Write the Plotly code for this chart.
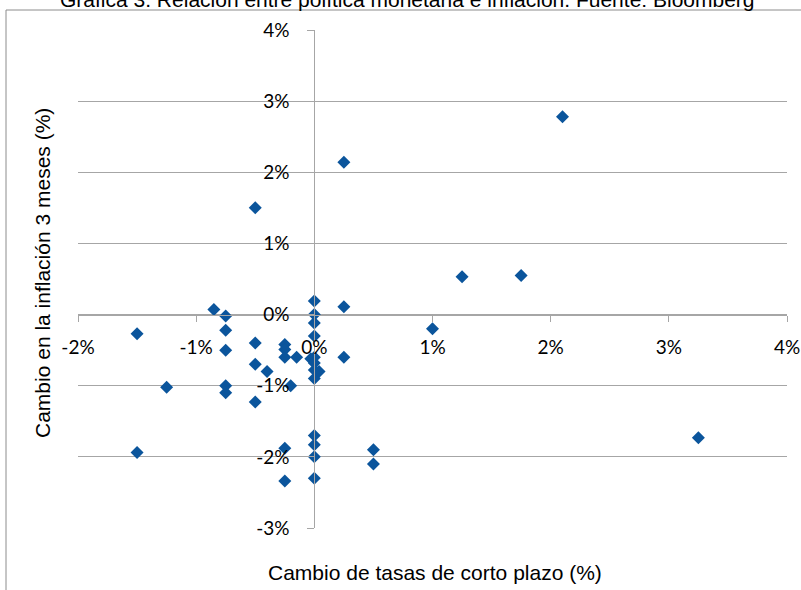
import plotly.graph_objects as go

# Data (percent points)
rate_change = [-1.5, -1.5, -1.25, -0.85, -0.75, -0.75, -0.75, -0.75, -0.75,
               -0.5, -0.5, -0.5, -0.5, -0.4, -0.25, -0.25, -0.25, -0.25, -0.25,
               -0.15, -0.2, 0, 0, 0, 0, 0, -0.03, 0, 0, 0, 0.04, 0, 0, 0, 0,
               0.25, 0.25, 0.25, 0.5, 0.5, 1.0, 1.25, 1.75, 2.1, 3.25]
infl_change = [-0.27, -1.94, -1.02, 0.07, -0.02, -0.22, -0.50, -1.00, -1.10,
               1.50, -0.40, -0.70, -1.23, -0.80, -0.42, -0.49, -0.60, -1.88, -2.34,
               -0.60, -1.00, 0.19, 0.0, -0.12, -0.30, -0.60, -0.62, -0.68, -0.78, -0.90, -0.80,
               -1.70, -1.83, -2.00, -2.30,
               2.14, 0.11, -0.60, -1.90, -2.10, -0.20, 0.53, 0.55, 2.78, -1.73]

x_ticks = [-2, -1, 0, 1, 2, 3, 4]
x_labels = ["-2%", "-1%", "0%", "1%", "2%", "3%", "4%"]
y_ticks = [-3, -2, -1, 0, 1, 2, 3, 4]
y_labels = ["-3%", "-2%", "-1%", "0%", "1%", "2%", "3%", "4%"]

title_text = "Gráfica 3. Relación entre política monetaria e inflación. Fuente: Bloomberg"
x_title = "Cambio de tasas de corto plazo (%)"
y_title = "Cambio en la inflación 3 meses (%)"

x_range = [-2, 4]
y_range = [-3, 4]

W, H = 801, 590
# plot area in page pixels: x 78..787, y 30..528
ML, MT = 78, 30
MR, MB = W - 787, H - 528
pw, ph = W - ML - MR, H - MT - MB

def px_to_paper_x(px):
    return (px - ML) / pw

def px_to_paper_y(py):
    return (H - MB - py) / ph

fig = go.Figure()
fig.add_trace(go.Scatter(
    x=rate_change, y=infl_change, mode="markers",
    marker=dict(symbol="diamond", size=10, color="#0B559C", line=dict(width=0)),
    showlegend=False, cliponaxis=False,
))

grid_col = "#A6A6A6"
tick_font = dict(family="Lato, Carlito, Calibri, sans-serif", size=19, color="#000000")

fig.update_layout(
    width=W, height=H,
    margin=dict(l=ML, r=MR, t=MT, b=MB, autoexpand=False),
    paper_bgcolor="white", plot_bgcolor="white",
    xaxis=dict(
        range=x_range, domain=[0, 1], anchor="free", automargin=False,
        position=(0 - y_range[0]) / (y_range[1] - y_range[0]),
        tickvals=x_ticks, ticktext=x_labels,
        ticks="outside", ticklen=6, tickcolor=grid_col, tickwidth=1,
        showline=True, linecolor=grid_col, linewidth=1,
        showgrid=False, zeroline=False,
        tickfont=tick_font, ticklabelstandoff=10,
    ),
    yaxis=dict(
        range=y_range, domain=[0, 1], anchor="free", automargin=False,
        position=(0 - x_range[0]) / (x_range[1] - x_range[0]),
        tickvals=y_ticks, ticktext=y_labels,
        ticks="outside", ticklen=7, tickcolor=grid_col, tickwidth=1,
        showline=True, linecolor=grid_col, linewidth=1,
        showgrid=True, gridcolor=grid_col, gridwidth=1,
        zeroline=False,
        tickfont=tick_font, ticklabelstandoff=14,
    ),
    font=dict(family="Liberation Sans, Arial, sans-serif", color="#000000"),
)

# chart-area border (Excel style), partially off-canvas
fig.add_shape(type="rect", xref="paper", yref="paper",
              x0=px_to_paper_x(6), x1=px_to_paper_x(900),
              y0=px_to_paper_y(700), y1=px_to_paper_y(10),
              line=dict(color="#8C8C8C", width=1), fillcolor="rgba(0,0,0,0)", layer="below")

fig.add_annotation(text=title_text, xref="paper", yref="paper",
                   x=px_to_paper_x(407), y=px_to_paper_y(0), xanchor="center", yanchor="middle",
                   showarrow=False, font=dict(family="Liberation Sans, Arial", size=21, color="#000000"))
fig.add_annotation(text=x_title, xref="paper", yref="paper",
                   x=px_to_paper_x(435), y=px_to_paper_y(572), xanchor="center", yanchor="middle",
                   showarrow=False, font=dict(family="Liberation Sans, Arial", size=21, color="#000000"))
fig.add_annotation(text=y_title, xref="paper", yref="paper", textangle=-90,
                   x=px_to_paper_x(42), y=px_to_paper_y(273), xanchor="center", yanchor="middle",
                   showarrow=False, font=dict(family="Liberation Sans, Arial", size=21, color="#000000"))

fig.write_html(
    "out.html",
    config={"displayModeBar": False},
    post_script="document.body.style.margin='0';document.body.style.overflow='hidden';",
)
